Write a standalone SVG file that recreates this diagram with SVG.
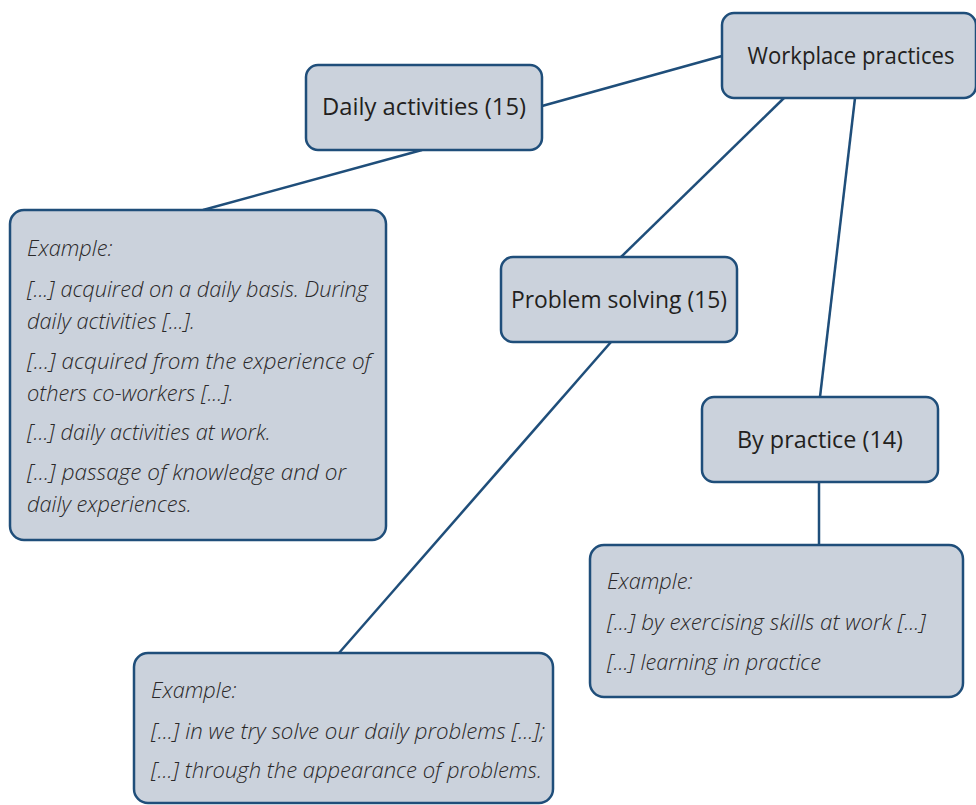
<svg xmlns="http://www.w3.org/2000/svg" width="976" height="805" viewBox="0 0 976 805">
<style>
.box{fill:#cbd2dc;stroke:#1f4e7a;stroke-width:2.5}
.ln{stroke:#1f4e7a;stroke-width:2.5;fill:none}
.t{font-family:"Open Sans","DejaVu Sans",sans-serif;font-size:23px;fill:#231f20;text-anchor:middle}
.i{font-family:"Open Sans","DejaVu Sans",sans-serif;font-size:21.8px;font-style:italic;font-weight:300;fill:#2a2829}
</style>
<rect width="976" height="805" fill="#ffffff"/>
<g id="connectors">
<line class="ln" x1="722" y1="56" x2="542" y2="106"/>
<line class="ln" x1="784" y1="98" x2="621" y2="257"/>
<line class="ln" x1="855" y1="98" x2="820" y2="397"/>
<line class="ln" x1="422" y1="150" x2="203" y2="210"/>
<line class="ln" x1="611" y1="342" x2="339" y2="653"/>
<line class="ln" x1="819" y1="482" x2="819" y2="545"/>
</g>
<g id="workplace">
<rect class="box" x="722" y="13" width="254" height="85" rx="12"/>
<text class="t" x="851" y="64" textLength="207" lengthAdjust="spacingAndGlyphs">Workplace practices</text>
</g>
<g id="daily">
<rect class="box" x="306" y="65" width="236" height="85" rx="12"/>
<text class="t" x="424" y="115" textLength="204" lengthAdjust="spacingAndGlyphs">Daily activities (15)</text>
</g>
<g id="problem">
<rect class="box" x="501" y="257" width="236" height="85" rx="12"/>
<text class="t" x="619" y="308" textLength="216" lengthAdjust="spacingAndGlyphs">Problem solving (15)</text>
</g>
<g id="practice">
<rect class="box" x="702" y="397" width="236" height="85" rx="12"/>
<text class="t" x="820" y="448" textLength="166" lengthAdjust="spacingAndGlyphs">By practice (14)</text>
</g>
<g id="example-daily">
<rect class="box" x="10" y="210" width="376" height="330" rx="14"/>
<text class="i" x="27" y="256">Example:</text>
<text class="i" x="27" y="297" textLength="341" lengthAdjust="spacingAndGlyphs">[...] acquired on a daily basis. During</text>
<text class="i" x="27" y="329">daily activities [...].</text>
<text class="i" x="27" y="369" textLength="344" lengthAdjust="spacingAndGlyphs">[...] acquired from the experience of</text>
<text class="i" x="27" y="401">others co-workers [...].</text>
<text class="i" x="27" y="440">[...] daily activities at work.</text>
<text class="i" x="27" y="480" textLength="319" lengthAdjust="spacingAndGlyphs">[...] passage of knowledge and or</text>
<text class="i" x="27" y="512">daily experiences.</text>
</g>
<g id="example-practice">
<rect class="box" x="590" y="545" width="373" height="152" rx="14"/>
<text class="i" x="607" y="589">Example:</text>
<text class="i" x="607" y="630" textLength="319" lengthAdjust="spacingAndGlyphs">[...] by exercising skills at work [...]</text>
<text class="i" x="607" y="670">[...] learning in practice</text>
</g>
<g id="example-problem">
<rect class="box" x="134" y="653" width="419" height="150" rx="14"/>
<text class="i" x="151" y="698">Example:</text>
<text class="i" x="151" y="739" textLength="394" lengthAdjust="spacingAndGlyphs">[...] in we try solve our daily problems [...];</text>
<text class="i" x="151" y="778" textLength="391" lengthAdjust="spacingAndGlyphs">[...] through the appearance of problems.</text>
</g>
</svg>
